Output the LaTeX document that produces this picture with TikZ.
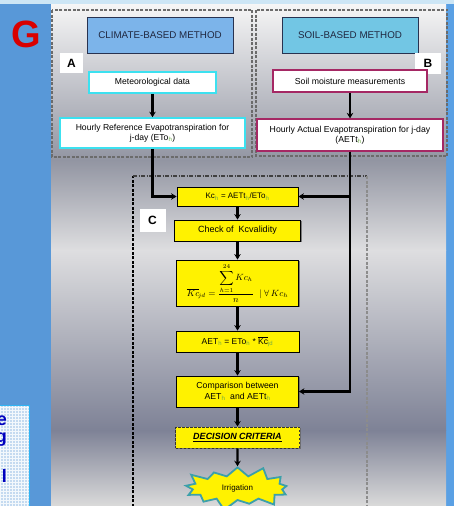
\documentclass[tikz,border=0pt]{standalone}
\usepackage{fontspec}
\setmainfont{Liberation Sans}
\usetikzlibrary{shapes.symbols,shadows,patterns,arrows.meta}
\definecolor{bgblue}{RGB}{88,152,216}
\definecolor{rblue}{RGB}{90,160,228}
\definecolor{topstrip}{RGB}{205,230,245}
\definecolor{climfill}{RGB}{124,180,234}
\definecolor{soilfill}{RGB}{114,198,228}
\definecolor{titleborder}{RGB}{40,50,80}
\definecolor{cyanb}{RGB}{60,225,240}
\definecolor{maroonb}{RGB}{165,40,100}
\definecolor{subgreen}{RGB}{110,170,70}
\definecolor{starborder}{RGB}{60,160,170}
\definecolor{gA}{RGB}{246,246,246}
\definecolor{gB}{RGB}{146,149,162}
\definecolor{gC}{RGB}{222,222,224}
\definecolor{gD}{RGB}{126,130,150}
\definecolor{gE}{RGB}{218,218,218}
\definecolor{gridfill}{RGB}{196,218,240}
\newcommand{\sbs}[1]{\textsubscript{\color{subgreen}#1}}
\begin{document}
\begin{tikzpicture}[x=1pt,y=-1pt,
  arr/.style={draw=black,line width=2.2pt,-{Stealth[length=5.5pt,width=6.5pt]}},
  plainline/.style={draw=black,line width=2.2pt},
  titlebox/.style={draw=titleborder,line width=0.9pt,inner sep=0pt,
     font=\fontsize{9.8}{11}\selectfont,text=titleborder!80!black,
     drop shadow={shadow xshift=1.2pt,shadow yshift=-1.2pt,fill=black!55,opacity=0.8}},
  letterbox/.style={fill=white,inner sep=0pt,font=\bfseries\fontsize{12}{12}\selectfont},
  cyanbox/.style={fill=white,draw=cyanb,line width=1.6pt,inner sep=1pt,align=center,
     font=\fontsize{8.6}{10}\selectfont},
  maroonbox/.style={fill=white,draw=maroonb,line width=1.3pt,inner sep=1pt,align=center,
     font=\fontsize{8.7}{10}\selectfont},
  ybox/.style={fill=yellow,draw=black,line width=0.8pt,inner sep=1pt,align=center,
     drop shadow={shadow xshift=1.3pt,shadow yshift=-1.3pt,fill=black!60,opacity=0.8}},
  dashA/.style={draw=black!58,line width=1.3pt,dash pattern=on 3pt off 1.5pt},
  sideletter/.style={anchor=base east,text=blue!75!black,font=\bfseries\fontsize{18}{18}\selectfont,inner sep=0pt}
]
\useasboundingbox (0,0) rectangle (454,506);
\clip (0,0) rectangle (454,506);
% background
\fill[bgblue] (0,0) rectangle (454,506);
\fill[topstrip] (0,0) rectangle (454,4);
\fill[rblue] (446,4) rectangle (454,506);
% grey panel gradient
\shade[top color=gA,bottom color=gB] (51,4) rectangle (446,160.5);
\shade[top color=gB,bottom color=gC] (51,160) rectangle (446,250.5);
\shade[top color=gC,bottom color=gD] (51,250) rectangle (446,430.5);
\shade[top color=gD,bottom color=gE] (51,430) rectangle (446,506);
% left text panel
\fill[gridfill] (0,405) rectangle (29,506);
\fill[pattern=grid,pattern color=white!80!gridfill] (0,405) rectangle (29,506);
\draw[cyanb!80!blue,line width=1pt] (-1,405) rectangle (29,507);
\begin{scope}
\clip (0,405) rectangle (29,506);
\node[sideletter] (le) at (7,425) {e};
\node[sideletter] (lg) at (7,442) {g};
\node[sideletter] (ll) at (7,482) {l};
\end{scope}
% G
\node[text=red!85!black,font=\bfseries\fontsize{38}{38}\selectfont,inner sep=0pt] (G) at (26,34) {G};
% dashed areas
\draw[dashA] (52,10) rectangle (252,157);
\draw[dashA] (256,10) rectangle (447,156);
\draw[black,line width=1.7pt,dash pattern=on 3pt off 1.5pt] (133,520) -- (133,176);
\draw[black!75,line width=1.5pt,dash pattern=on 4pt off 1.5pt on 1pt off 1.5pt] (133,176) -- (367,176);
\draw[black!45,line width=1.5pt,dash pattern=on 3pt off 1.5pt] (367,176) -- (367,520);
% title boxes
\node[titlebox,fill=climfill,minimum width=146pt,minimum height=36pt] (clim) at (160,35) {CLIMATE-BASED METHOD};
\node[titlebox,fill=soilfill,minimum width=136pt,minimum height=36pt] (soil) at (350,35) {SOIL-BASED METHOD};
\node[letterbox,minimum width=23pt,minimum height=20pt] (la) at (71.5,63) {A};
\node[letterbox,minimum width=26pt,minimum height=21pt] (lb) at (428,63.5) {B};
\node[letterbox,minimum width=26pt,minimum height=23pt] (lc) at (152.5,220) {C};
% white boxes
\node[cyanbox,minimum width=127pt,minimum height=21pt] (meteo) at (152.5,82.5) {Meteorological data};
\node[maroonbox,minimum width=154pt,minimum height=22pt] (soilm) at (350,81) {Soil moisture measurements};
\node[cyanbox,minimum width=185pt,minimum height=30pt] (eto) at (152.5,133) {Hourly Reference Evapotranspiration for\\ j-day (ETo\sbs{h})};
\node[maroonbox,minimum width=186pt,minimum height=32pt] (aett) at (350,135) {Hourly Actual Evapotranspiration for j-day\\ (AETt\sbs{h})};
% yellow boxes
\node[ybox,minimum width=121pt,minimum height=19pt,font=\fontsize{8}{9}\selectfont] (kc) at (237.5,196.5) {Kc\sbs{h} = AETt\sbs{h}/ETo\sbs{h}};
\node[ybox,minimum width=126pt,minimum height=21pt,font=\fontsize{9}{10}\selectfont] (check) at (237.5,230.5) {Check of \ Kcvalidity};
\node[ybox,minimum width=122pt,minimum height=46pt,inner sep=0pt,font=\fontsize{9}{10}\selectfont] (avg) at (237.5,283)
  {$\displaystyle\overline{Kc}_{\!jd}=\frac{\displaystyle\sum_{h=1}^{24} Kc_{h}}{n}\;\;|\;\forall\,Kc_{h}$};
\node[ybox,minimum width=123pt,minimum height=21pt,font=\fontsize{8.5}{9}\selectfont] (aet) at (237.5,341.5) {AET\sbs{h} = ETo\sbs{h} * $\overline{\mathrm{Kc}}$\sbs{jd}};
\node[ybox,minimum width=122pt,minimum height=31pt,font=\fontsize{8.7}{10.5}\selectfont] (comp) at (237.5,391.5) {Comparison between\\ AET\sbs{h} \ and AETt\sbs{h}};
\node[ybox,minimum width=124pt,minimum height=21pt,dash pattern=on 2.5pt off 1.5pt,draw=black!80,line width=1pt,font=\bfseries\itshape\fontsize{9}{10}\selectfont] (dec) at (237.5,437.5) {\underline{DECISION CRITERIA}};
\node[starburst,starburst points=13,starburst point height=12pt,fill=yellow,draw=starborder,line width=1.8pt,minimum width=114pt,minimum height=48pt,inner sep=0pt,font=\fontsize{8}{9}\selectfont] (irr) at (237.5,488) {Irrigation};
% connectors
\draw[arr] (meteo.south) -- (eto.north);
\draw[arr] (soilm.south) -- (aett.north);
\draw[arr] (eto.south) |- (kc.west);
\coordinate (rj) at (aett.south |- kc.east);
\draw[plainline] (aett.south) -- (aett.south |- comp.east);
\draw[arr] (rj) -- (kc.east);
\draw[arr] (aett.south) |- (comp.east);
\draw[arr] (kc.south) -- (check.north);
\draw[arr] (check.south) -- (avg.north);
\draw[arr] (avg.south) -- (aet.north);
\draw[arr] (aet.south) -- (comp.north);
\draw[arr] (comp.south) -- (dec.north);
\draw[arr] (dec.south) -- (irr.north);
\end{tikzpicture}
\end{document}
